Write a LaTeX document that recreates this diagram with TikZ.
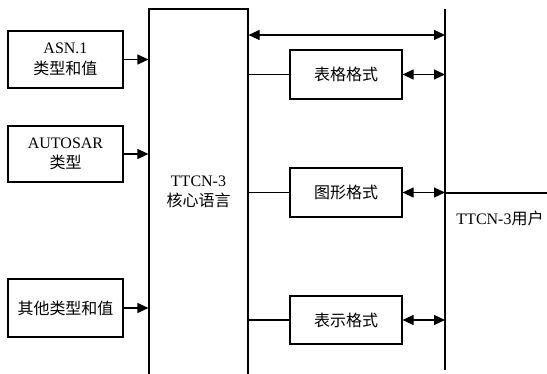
\documentclass[tikz,border=0pt]{standalone}
\usepackage{fontspec}
\setmainfont{Liberation Serif}
\newfontfamily\cjk{Noto Sans CJK SC}
\usetikzlibrary{arrows.meta}
\begin{document}
\begin{tikzpicture}[x=1pt,y=-1pt,
  font=\fontsize{16}{20.5}\selectfont,
  box/.style={draw, line width=1.2pt, inner sep=0pt, align=center},
  arr/.style={line width=1.2pt, -{Triangle[length=11pt,width=10pt]}},
  darr/.style={line width=1.2pt, {Triangle[length=11pt,width=10pt]}-{Triangle[length=11pt,width=10pt]}},
  ln/.style={line width=1.2pt}]
\useasboundingbox (0,0) rectangle (547,374);
% left input boxes
\node[box, minimum width=115pt, minimum height=57pt] (asn) at (65.5,59.5) {ASN.1\\{\cjk 类型和值}};
\node[box, minimum width=115pt, minimum height=56pt] (aut) at (65.5,154) {AUTOSAR\\{\cjk 类型}};
\node[box, minimum width=115pt, minimum height=58pt] (oth) at (65.5,308) {{\cjk 其他类型和值}};
% core language box (bottom runs off the picture)
\node[box, minimum width=99pt, minimum height=370pt] (main) at (198.5,194) {};
\node[align=center] (mtxt) at (198.5,192) {TTCN-3\\{\cjk 核心语言}};
% format boxes
\node[box, minimum width=112pt, minimum height=49pt] (f1) at (346,74.5) {{\cjk 表格格式}};
\node[box, minimum width=112pt, minimum height=49pt] (f2) at (346,192.5) {{\cjk 图形格式}};
\node[box, minimum width=112pt, minimum height=48pt] (f3) at (346,320) {{\cjk 表示格式}};
% user bus
\coordinate (bt) at (445,9);
\coordinate (bb) at (445,370);
\draw[ln] (bt) -- (bb);
\coordinate (t1) at (445,35);
\coordinate (out) at (547,193);
\node (usr) at (500,218) {TTCN-3{\cjk 用户}};
% connectors
\draw[arr] (asn.east) -- (asn.east -| main.west);
\draw[arr] (aut.east) -- (aut.east -| main.west);
\draw[arr] (oth.east) -- (oth.east -| main.west);
\draw[darr] (t1 -| main.east) -- (t1);
\draw[ln] (f1.west -| main.east) -- (f1.west);
\draw[ln] (f2.west -| main.east) -- (f2.west);
\draw[ln] (f3.west -| main.east) -- (f3.west);
\draw[darr] (f1.east) -- (f1.east -| bt);
\draw[darr] (f2.east) -- (f2.east -| bt);
\draw[darr] (f3.east) -- (f3.east -| bt);
\draw[ln] (out -| bt) -- (out);
\end{tikzpicture}
\end{document}
